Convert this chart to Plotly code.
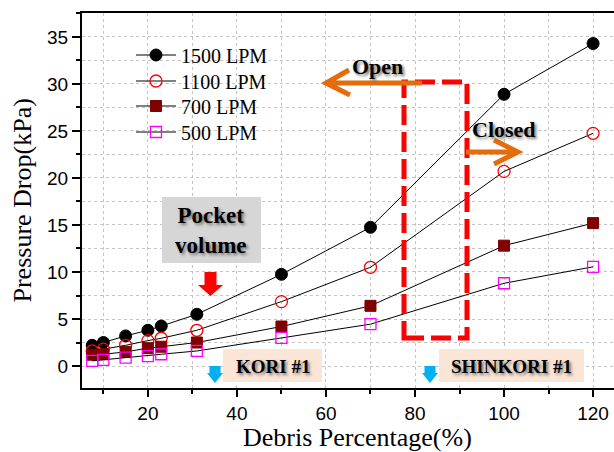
import plotly.graph_objects as go

# ---------------- data ----------------
debris_pct = [7.5, 10, 15, 20, 23, 31, 50, 70, 100, 120]
lpm1500 = [2.2, 2.5, 3.2, 3.8, 4.25, 5.5, 9.75, 14.75, 28.9, 34.3]
lpm1100 = [1.6, 1.8, 2.2, 2.7, 2.95, 3.8, 6.85, 10.5, 20.7, 24.75]
lpm700 = [1.2, 1.25, 1.5, 1.9, 2.05, 2.5, 4.2, 6.4, 12.8, 15.2]
lpm500 = [0.55, 0.65, 0.9, 1.05, 1.25, 1.6, 3.0, 4.45, 8.8, 10.55]
series_names = ["1500 LPM", "1100 LPM", "700 LPM", "500 LPM"]

W, H = 614, 452
ML, MR, MT, MB = 82, 0, 13, 64
PW, PH = W - ML - MR, H - MT - MB


def px(x):
    return (x - ML) / PW


def py(y):
    return (H - MB - y) / PH


fig = go.Figure()

styles = [
    dict(symbol="circle", size=12, color="black", line=dict(color="black", width=1)),
    dict(symbol="circle-open", size=12, color="#FF0000", line=dict(color="#FF0000", width=1.3)),
    dict(symbol="square", size=11, color="#800000", line=dict(color="#800000", width=1)),
    dict(symbol="square-open", size=11, color="#FF00FF", line=dict(color="#FF00FF", width=1.3)),
]
legend_ids = ["legend", "legend2", "legend3", "legend4"]
legend_rows = [55, 81, 106, 132]
for name, vals, st, lg in zip(series_names, [lpm1500, lpm1100, lpm700, lpm500], styles, legend_ids):
    fig.add_trace(go.Scatter(
        x=debris_pct, y=vals, name=name, mode="lines+markers",
        line=dict(color="black", width=1),
        marker=st, legend=lg,
    ))

grid = "#c4c4c4"
fig.update_xaxes(
    range=[5.2, 124.7], tick0=0, dtick=20, ticks="outside", ticklen=7, tickwidth=1.5,
    tickcolor="black", showline=True, linewidth=2, linecolor="black", mirror=True,
    showgrid=True, gridcolor=grid, griddash="dot", gridwidth=1, zeroline=False,
    tickfont=dict(family="Liberation Sans", size=19, color="black"),
    minor=dict(tick0=0, dtick=10, ticks="outside", ticklen=4, tickwidth=1.5, tickcolor="black",
               showgrid=True, gridcolor=grid, griddash="dot", gridwidth=1),
)
fig.update_yaxes(
    range=[-2.34, 37.55], tick0=0, dtick=5, ticks="outside", ticklen=8, tickwidth=1.5,
    tickcolor="black", showline=True, linewidth=2, linecolor="black",
    showgrid=True, gridcolor=grid, griddash="dot", gridwidth=1, zeroline=False,
    tickfont=dict(family="Liberation Sans", size=19, color="black"),
    minor=dict(tick0=0, dtick=2.5, ticks="outside", ticklen=4, tickwidth=1.5, tickcolor="black",
               showgrid=True, gridcolor=grid, griddash="dot", gridwidth=1),
)

shapes = []
annots = []

# axis titles
annots.append(dict(text="Pressure Drop(kPa)", x=px(22), y=0.5, xref="paper", yref="paper",
                   textangle=-90, showarrow=False, xanchor="center", yanchor="middle",
                   font=dict(family="Liberation Serif", size=26, color="black")))
annots.append(dict(text="Debris Percentage(%)", x=px(357), y=py(437.5), xref="paper", yref="paper",
                   showarrow=False, xanchor="center", yanchor="middle",
                   font=dict(family="Liberation Serif", size=26, color="black")))

shadow = "2px 2px 3px #777"
bold = dict(family="Liberation Serif", color="black", weight="bold", shadow=shadow)

# Pocket volume box
shapes.append(dict(type="rect", xref="paper", yref="paper", x0=px(162), x1=px(261), y0=py(263), y1=py(197),
                   fillcolor="#D6D6D6", line=dict(width=0), layer="above"))
annots.append(dict(text="Pocket<br>volume", x=px(211), y=py(231), xref="paper", yref="paper",
                   showarrow=False, xanchor="center", yanchor="middle", font=dict(size=23, **bold)))


def block_arrow(cx, top, head, tip, sw, hw, color):
    path = (f"M{px(cx - sw)},{py(top)} L{px(cx + sw)},{py(top)} L{px(cx + sw)},{py(head)} "
            f"L{px(cx + hw)},{py(head)} L{px(cx)},{py(tip)} L{px(cx - hw)},{py(head)} "
            f"L{px(cx - sw)},{py(head)} Z")
    return dict(type="path", xref="paper", yref="paper", path=path, fillcolor=color,
                line=dict(width=0), layer="above")


shapes.append(block_arrow(210.5, 272, 285, 296, 6, 12.5, "#FF0000"))

# KORI / SHINKORI boxes
shapes.append(dict(type="rect", xref="paper", yref="paper", x0=px(223), x1=px(322), y0=py(382), y1=py(349),
                   fillcolor="#FBE5D6", line=dict(width=0), layer="above"))
shapes.append(dict(type="rect", xref="paper", yref="paper", x0=px(439), x1=px(584), y0=py(382), y1=py(349),
                   fillcolor="#FBE5D6", line=dict(width=0), layer="above"))
annots.append(dict(text="KORI #1", x=px(272.5), y=py(366), xref="paper", yref="paper",
                   showarrow=False, xanchor="center", yanchor="middle", font=dict(size=19, **bold)))
annots.append(dict(text="SHINKORI #1", x=px(511.5), y=py(366), xref="paper", yref="paper",
                   showarrow=False, xanchor="center", yanchor="middle", font=dict(size=19, **bold)))
shapes.append(block_arrow(215, 366, 373, 383, 5.5, 8, "#00B0F0"))
shapes.append(block_arrow(430, 366, 373, 383, 5.5, 8, "#00B0F0"))

# red dashed rectangle
shapes.append(dict(type="rect", xref="paper", yref="paper", x0=px(404), x1=px(467), y0=py(338), y1=py(82),
                   line=dict(color="#FF0000", width=5, dash="20px,7px"), fillcolor="rgba(0,0,0,0)",
                   layer="above"))

# orange arrows
orange = "#E46C0A"


def chevron_arrow(x0, y0, x1, y1, ax1, ay1, ax2, ay2):
    path = (f"M{px(x0)},{py(y0)} L{px(x1)},{py(y1)} "
            f"M{px(ax1)},{py(ay1)} L{px(x1)},{py(y1)} L{px(ax2)},{py(ay2)}")
    return dict(type="path", xref="paper", yref="paper", path=path,
                line=dict(color=orange, width=5), layer="above")


shapes.append(chevron_arrow(422, 83, 326, 83, 349, 70, 350, 95))
shapes.append(chevron_arrow(466, 152, 518, 152, 494, 140, 494, 164))
annots.append(dict(text="Open", x=px(377), y=py(66), xref="paper", yref="paper",
                   showarrow=False, xanchor="center", yanchor="middle", font=dict(size=22, **bold)))
annots.append(dict(text="Closed", x=px(504), y=py(129), xref="paper", yref="paper",
                   showarrow=False, xanchor="center", yanchor="middle", font=dict(size=22, **bold)))

legend_common = dict(xanchor="left", yanchor="middle", bgcolor="rgba(0,0,0,0)",
                     font=dict(family="Liberation Serif", size=20, color="black"),
                     itemwidth=40, tracegroupgap=0)
legend_layout = {lg: dict(x=px(131), y=py(row), **legend_common)
                 for lg, row in zip(legend_ids, legend_rows)}

fig.update_layout(
    width=W, height=H,
    margin=dict(l=ML, r=MR, t=MT, b=MB),
    paper_bgcolor="white", plot_bgcolor="white",
    shapes=shapes, annotations=annots,
    showlegend=True,
    **legend_layout,
)

fig.write_html("out.html")
